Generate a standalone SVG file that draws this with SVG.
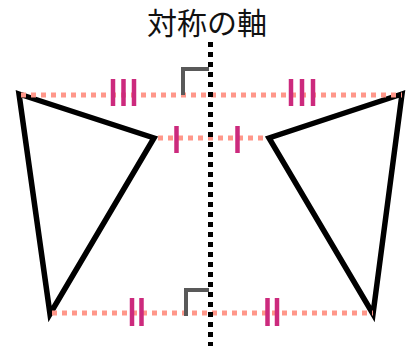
<svg xmlns="http://www.w3.org/2000/svg" width="408" height="352" viewBox="0 0 408 352">
<style>
.title{font-family:"Noto Sans CJK JP","Noto Sans",sans-serif;font-size:30px;fill:#111}
.shape{fill:none;stroke:#000;stroke-width:5.5;stroke-linejoin:miter}
.guide{stroke:#ff978a;stroke-width:5;stroke-dasharray:5 5;fill:none}
.axis{stroke:#000;stroke-width:5;stroke-dasharray:5 5;fill:none}
.tick{stroke:#cc2a7d;stroke-width:4.5;fill:none}
.right{stroke:#595959;stroke-width:4;fill:none}
</style>
<g id="title"><text class="title" x="207" y="34" text-anchor="middle">対称の軸</text></g>
<g id="left-shape"><polygon class="shape" points="19,94 154,138 50,314"/></g>
<g id="right-shape"><polygon class="shape" points="402,94 269,138 373,314"/></g>
<g id="connectors">
<line class="guide" x1="21" y1="95" x2="402" y2="95"/>
<line class="guide" x1="158" y1="138" x2="268" y2="138"/>
<line class="guide" x1="52" y1="313" x2="373" y2="313"/>
</g>
<g id="right-angles">
<polyline class="right" points="183,95 183,69 209,69"/>
<polyline class="right" points="186,316 186,290 209,290"/>
</g>
<g id="axis"><line class="axis" x1="210.5" y1="42" x2="210.5" y2="346"/></g>
<g id="ticks">
<line class="tick" x1="113" y1="79" x2="113" y2="106"/>
<line class="tick" x1="123.5" y1="79" x2="123.5" y2="106"/>
<line class="tick" x1="134" y1="79" x2="134" y2="106"/>
<line class="tick" x1="291" y1="79" x2="291" y2="106"/>
<line class="tick" x1="302" y1="79" x2="302" y2="106"/>
<line class="tick" x1="313" y1="79" x2="313" y2="106"/>
<line class="tick" x1="176.5" y1="126" x2="176.5" y2="153"/>
<line class="tick" x1="237.5" y1="126" x2="237.5" y2="153"/>
<line class="tick" x1="132" y1="298" x2="132" y2="326"/>
<line class="tick" x1="141.5" y1="298" x2="141.5" y2="326"/>
<line class="tick" x1="267.5" y1="298" x2="267.5" y2="326"/>
<line class="tick" x1="277" y1="298" x2="277" y2="326"/>
</g>
</svg>
